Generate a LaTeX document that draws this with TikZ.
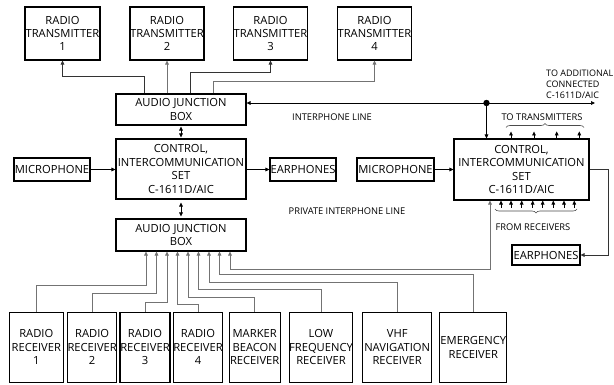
\documentclass[tikz,border=0pt]{standalone}
\usepackage{fontspec}
\setmainfont{Open Sans}
\usetikzlibrary{arrows.meta,decorations.pathreplacing}
\begin{document}
\begin{tikzpicture}[x=1pt,y=-1pt,
  blk/.style={draw=black,line width=1.1pt,inner sep=0pt,align=center,font=\fontsize{11.2}{13.4}\selectfont},
  conn/.style={draw=black!80,line width=0.7pt},
  lconn/.style={draw=black!55,line width=0.7pt},
  tipE/.style={-{Triangle[length=4pt,width=3.6pt]}},
  tipB/.style={{Triangle[length=4pt,width=3.6pt]}-{Triangle[length=4pt,width=3.6pt]}},
  lbl/.style={inner sep=0pt,font=\fontsize{9.3}{11.2}\selectfont},
  brc/.style={draw=black!70,line width=0.6pt,decorate,decoration={brace,amplitude=4pt}}
]
\fill[white] (0,0) rectangle (614,385);
\useasboundingbox (0,0) rectangle (614,385);

% transmitters
\node[blk,minimum width=75pt,minimum height=53pt] (t1) at (62.5,33.5) {RADIO\\TRANSMITTER\\1};
\node[blk,minimum width=74pt,minimum height=53pt] (t2) at (167,33.5) {RADIO\\TRANSMITTER\\2};
\node[blk,minimum width=74pt,minimum height=53pt] (t3) at (270.5,33.5) {RADIO\\TRANSMITTER\\3};
\node[blk,minimum width=73pt,minimum height=53pt] (t4) at (374.5,33.5) {RADIO\\TRANSMITTER\\4};

% left column
\node[blk,minimum width=130pt,minimum height=31pt] (aj1) at (181,109.5) {AUDIO JUNCTION\\BOX};
\node[blk,minimum width=130pt,minimum height=60pt] (ctl1) at (181,169) {CONTROL,\\INTERCOMMUNICATION\\SET\\C-1611D/AIC};
\node[blk,minimum width=130pt,minimum height=32pt] (aj2) at (181,235) {AUDIO JUNCTION\\BOX};
\node[blk,minimum width=76pt,minimum height=23pt] (mic1) at (52,169.5) {MICROPHONE};
\node[blk,minimum width=66pt,minimum height=23pt] (ear1) at (303,169.5) {EARPHONES};

% right column
\node[blk,minimum width=77pt,minimum height=23pt] (mic2) at (395.5,169.5) {MICROPHONE};
\node[blk,minimum width=135pt,minimum height=61pt] (ctl2) at (521.5,169.5) {CONTROL,\\INTERCOMMUNICATION\\SET\\C-1611D/AIC};
\node[blk,minimum width=68pt,minimum height=20pt] (ear2) at (546,255) {EARPHONES};

% receivers
\node[blk,minimum width=54pt,minimum height=70pt] (r1) at (36.3,347.3) {RADIO\\RECEIVER\\1};
\node[blk,minimum width=49pt,minimum height=70pt] (r2) at (92.2,347.3) {RADIO\\RECEIVER\\2};
\node[blk,minimum width=50pt,minimum height=70pt] (r3) at (145,347.3) {RADIO\\RECEIVER\\3};
\node[blk,minimum width=49pt,minimum height=70pt] (r4) at (198,347.3) {RADIO\\RECEIVER\\4};
\node[blk,minimum width=51pt,minimum height=70pt] (mk) at (254.7,347.3) {MARKER\\BEACON\\RECEIVER};
\node[blk,minimum width=63pt,minimum height=70pt] (lf) at (321,347.3) {LOW\\FREQUENCY\\RECEIVER};
\node[blk,minimum width=69pt,minimum height=70pt] (vhf) at (397.2,347.3) {VHF\\NAVIGATION\\RECEIVER};
\node[blk,minimum width=67pt,minimum height=70pt] (em) at (473.3,347.3) {EMERGENCY\\RECEIVER};

% labels
\node[lbl] (lint) at (332,117) {INTERPHONE LINE};
\node[lbl] (lpriv) at (347,211) {PRIVATE INTERPHONE LINE};
\node[lbl,anchor=west,align=left,font=\fontsize{9}{11.2}\selectfont] (ladd) at (546,84) {TO ADDITIONAL\\CONNECTED\\C-1611D/AIC};
\node[lbl] (ltx) at (542,117) {TO TRANSMITTERS};
\node[lbl] (lrx) at (533,227) {FROM RECEIVERS};

% audio junction box 1 to transmitters
\draw[conn,tipE] ([xshift=-37pt]aj1.north) -- ++(0,-17) -| (t1.south);
\draw[lconn,tipE] (aj1.north -| t2.south) -- (t2.south);
\draw[conn,tipE] ([xshift=9pt]aj1.north) -- ++(0,-21) -| (t3.south);
\draw[lconn,tipE] ([xshift=32pt]aj1.north) -- ++(0,-12) -| (t4.south);

% interphone line
\coordinate (dot) at (486.5,103);
\coordinate (addl) at (595,103);
\draw[conn,black,tipE] (dot) -- (aj1.east |- dot);
\draw[conn,black,tipE] (dot) -- (addl);
\draw[conn,black,tipE] (dot) -- (dot |- ctl2.north);
\fill[black] (dot) circle (3.2pt);

% vertical links
\draw[conn,black,tipB,shorten <=1pt,shorten >=1pt] (aj1.south) -- (ctl1.north);
\draw[conn,black,tipB,shorten <=3pt,shorten >=2pt] (ctl1.south) -- (aj2.north);

% microphones / earphones
\draw[conn,black,tipE] (mic1.east) -- (mic1.east -| ctl1.west);
\draw[conn,black,tipE] (ctl1.east |- ear1.west) -- (ear1.west);
\draw[conn,black,tipE] (mic2.east) -- (mic2.east -| ctl2.west);
\draw[conn,tipE] (ctl2.east) -- ++(19,0) |- (ear2.east);

% to transmitters arrows
\foreach \dx in {-10.5,12.5,35.2,57.8}
  \draw[conn,black,tipE] ([xshift=\dx pt]ctl2.north) -- ++(0,-7);
\draw[brc] (506,127.5) -- (584,127.5);

% from receivers arrows
\foreach \dx in {-20.5,-10.5,0.2,11.2,21.2,31.8,42.5,52.8}
  \draw[conn,black,tipE] ([xshift=\dx pt]ctl2.south) ++(0,7) -- ([xshift=\dx pt]ctl2.south);
\draw[brc] (577,209) -- (495,209);

% receivers to audio junction box 2
\draw[lconn,tipE] (r1.north) -- ++(0,-26.6) -| ([xshift=-35pt]aj2.south);
\draw[lconn,tipE] (r2.north) -- ++(0,-18) -| ([xshift=-24.5pt]aj2.south);
\draw[lconn,tipE] (r3.north) -- ++(0,-9.6) -| ([xshift=-14pt]aj2.south);
\draw[lconn,tipE] (r4.north) -- ++(0,-7.3) -| ([xshift=-3.5pt]aj2.south);
\draw[lconn,tipE] (mk.north) -- ++(0,-14.6) -| ([xshift=7pt]aj2.south);
\draw[lconn,tipE] (lf.north) -- ++(0,-22.3) -| ([xshift=17.5pt]aj2.south);
\draw[lconn,tipE] (vhf.north) -- ++(0,-29.6) -| ([xshift=28pt]aj2.south);
\draw[lconn,tipE] (em.north) -- ++(0,-37.3) -| ([xshift=38.5pt]aj2.south);
\draw[lconn,tipB] ([xshift=49pt]aj2.south) -- ++(0,18.3) -| ([xshift=-31.5pt]ctl2.south);
\end{tikzpicture}
\end{document}
